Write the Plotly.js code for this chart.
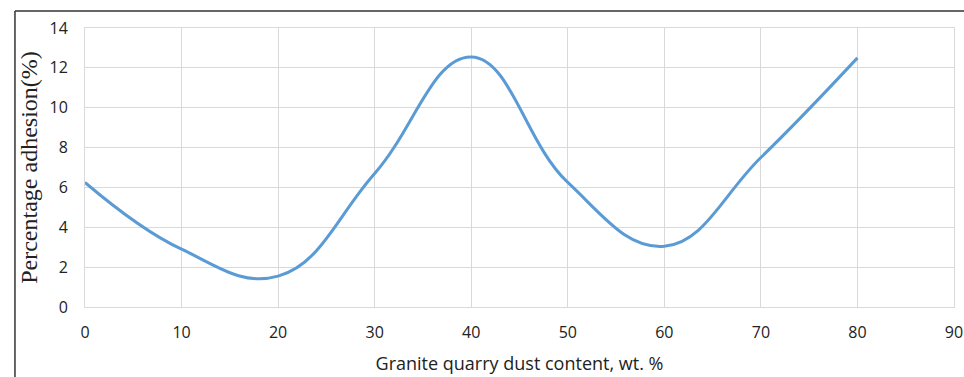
<!DOCTYPE html>
<html>
<head>
<meta charset="utf-8">
<script src="https://cdn.plot.ly/plotly-3.0.1.min.js"></script>
<style>html,body{margin:0;padding:0;background:#fff;}#chart{width:964px;height:377px;}</style>
</head>
<body>
<div id="chart"></div>
<script>
var dustContent = [0, 10, 20, 30, 40, 50, 60, 70, 80];
var adhesion = [6.25, 2.9, 1.55, 6.7, 12.55, 6.25, 3.05, 7.5, 12.5];
var xTicks = [0, 10, 20, 30, 40, 50, 60, 70, 80, 90];
var yTicks = [0, 2, 4, 6, 8, 10, 12, 14];

var trace = {
  x: dustContent,
  y: adhesion,
  type: 'scatter',
  mode: 'lines',
  line: {color: '#5b9bd5', width: 3, shape: 'spline', smoothing: 1.2},
  hoverinfo: 'skip'
};

var tickFont = {family: 'Open Sans, Liberation Sans, sans-serif', size: 16, color: '#222'};

var layout = {
  width: 964, height: 377,
  margin: {l: 84.7, r: 10, t: 28, b: 70},
  paper_bgcolor: '#fff', plot_bgcolor: '#fff',
  showlegend: false,
  xaxis: {
    range: [0, 90], tickvals: xTicks, ticktext: xTicks.map(String),
    showgrid: true, gridcolor: '#d9d9d9', gridwidth: 1,
    zeroline: false, showline: true, linecolor: '#d9d9d9', linewidth: 1, mirror: true,
    ticks: 'outside', ticklen: 11, tickcolor: 'rgba(0,0,0,0)',
    tickfont: tickFont,
    title: {text: 'Granite quarry dust content, wt. %', standoff: 15,
      font: {family: 'Open Sans, Liberation Sans, sans-serif', size: 18, color: '#222'}}
  },
  yaxis: {
    range: [0, 14], tickvals: yTicks, ticktext: yTicks.map(String),
    showgrid: true, gridcolor: '#d9d9d9', gridwidth: 1,
    zeroline: false, showline: true, linecolor: '#d9d9d9', linewidth: 1, mirror: true,
    ticks: 'outside', ticklen: 13, tickcolor: 'rgba(0,0,0,0)',
    tickfont: tickFont,
    title: {text: 'Percentage adhesion(%)', standoff: 5,
      font: {family: 'Liberation Serif, Times New Roman, serif', size: 24, color: '#222'}}
  },
  shapes: [
    {type: 'line', xref: 'paper', yref: 'paper', x0: -0.0806, x1: 1.02, y0: 1.0613, y1: 1.0613,
      line: {color: '#333', width: 1.5}},
    {type: 'line', xref: 'paper', yref: 'paper', x0: -0.0806, x1: -0.0806, y0: 1.0613, y1: -0.3,
      line: {color: '#333', width: 1.5}}
  ]
};

Plotly.newPlot('chart', [trace], layout, {displayModeBar: false, staticPlot: true});
</script>
</body>
</html>
